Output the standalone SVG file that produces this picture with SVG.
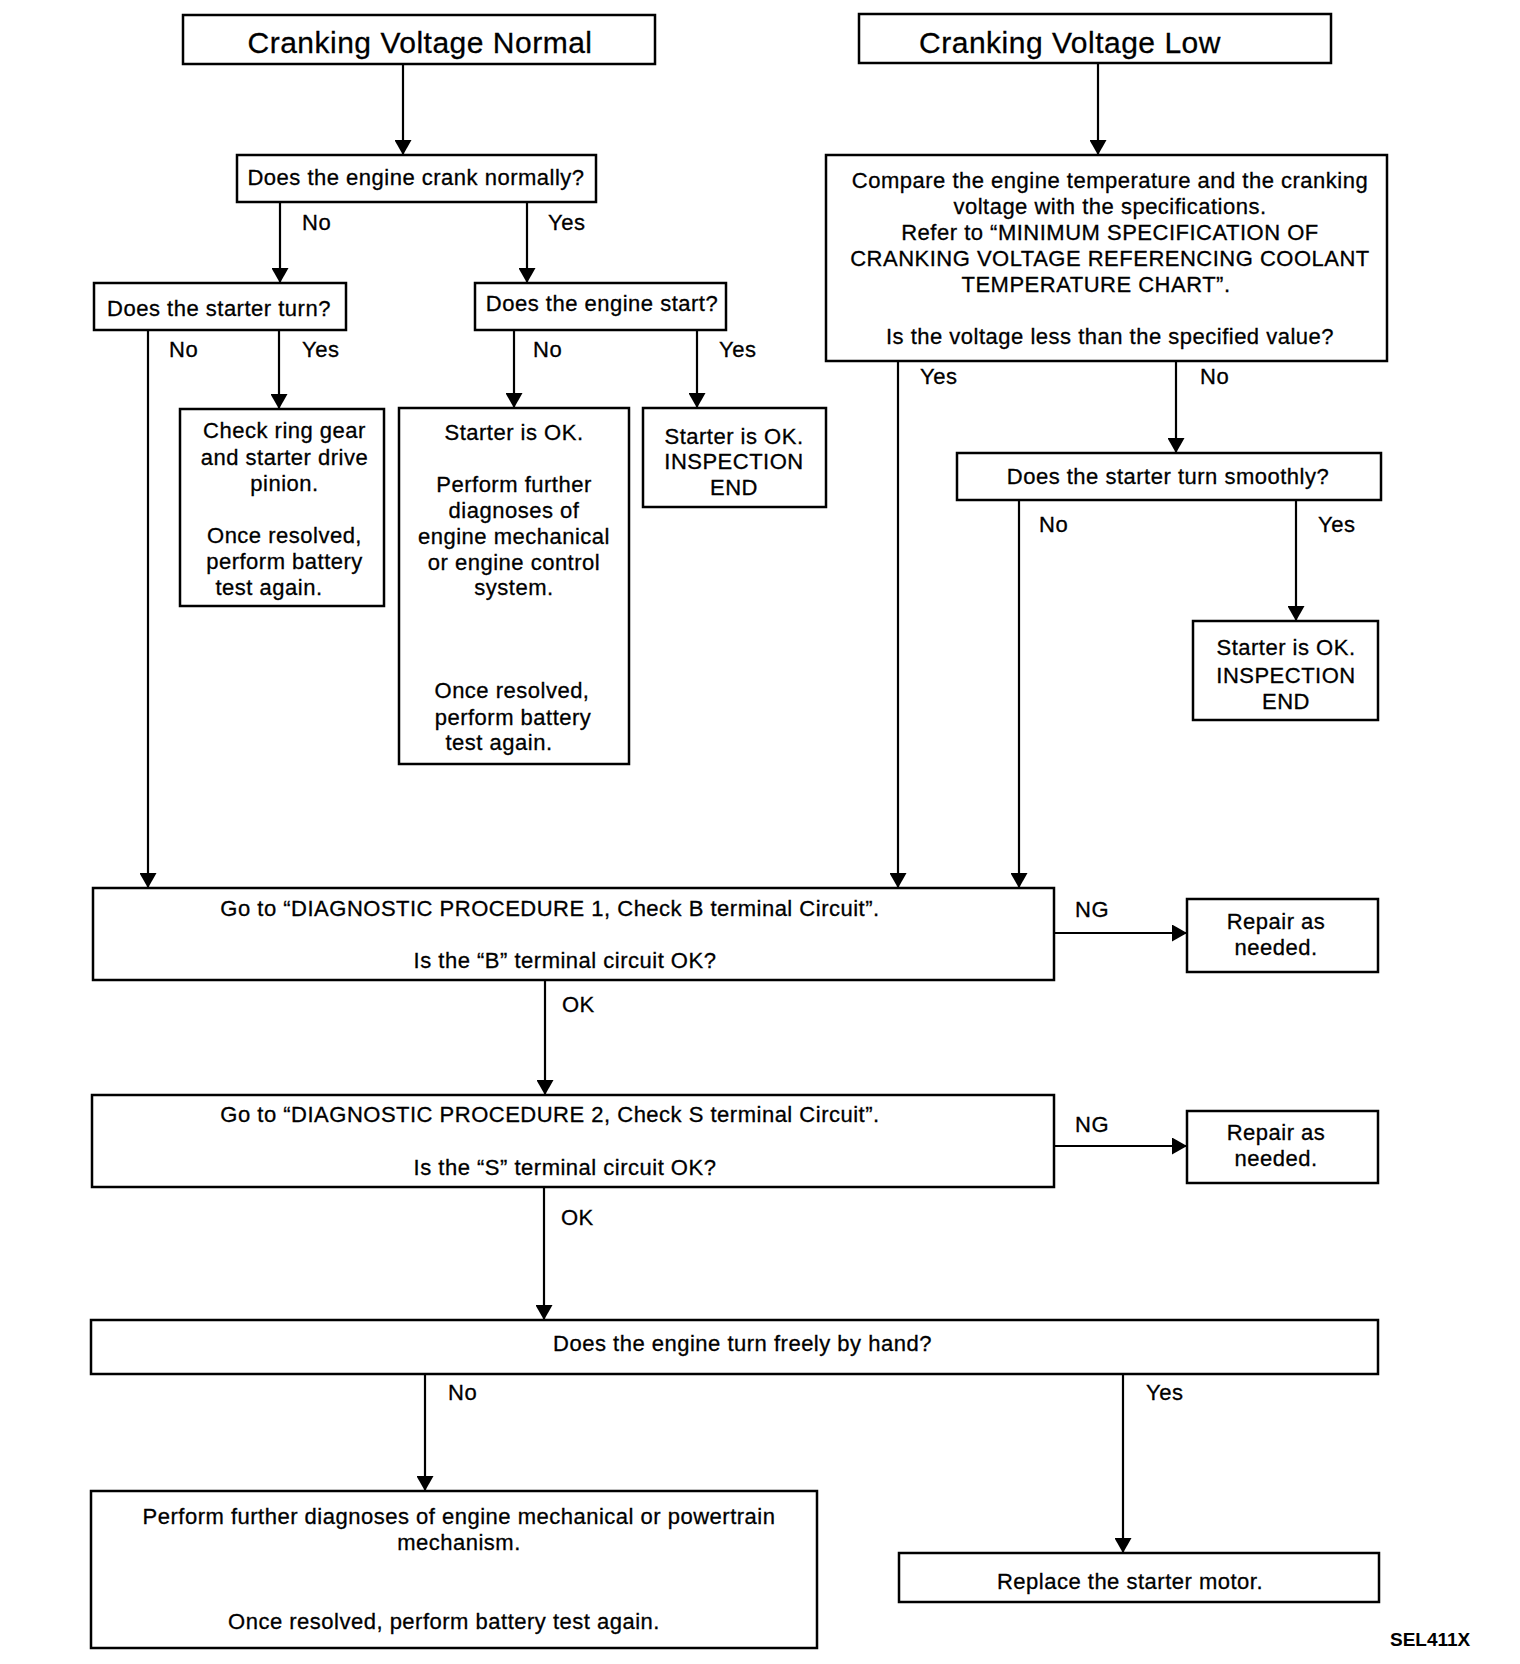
<svg xmlns="http://www.w3.org/2000/svg" width="1520" height="1664" viewBox="0 0 1520 1664">
<style>
  text { font-family: "Liberation Sans", Arial, Helvetica, sans-serif; font-size: 22px; letter-spacing: 0.5px; fill: #000; stroke: #000; stroke-width: 0.3px; text-anchor: middle; }
  .title { font-size: 30px; letter-spacing: 0.5px; }
  .lbl { text-anchor: start; }
  .code { font-size: 19px; font-weight: bold; letter-spacing: 0; text-anchor: start; stroke: none; }
  .box { fill: #fff; stroke: #000; stroke-width: 2.5; }
  .conn line { stroke: #000; stroke-width: 2.2; fill: none; marker-end: url(#ah); }
</style>
<defs>
  <marker id="ah" markerUnits="userSpaceOnUse" viewBox="0 0 15 17" markerWidth="15" markerHeight="17" refX="15" refY="8.5" orient="auto">
    <path d="M0,0 L15,8.5 L0,17 Z" fill="#000"/>
  </marker>
</defs>
<rect width="1520" height="1664" fill="#fff"/>

<g id="connectors" class="conn">
  <line x1="403" y1="64" x2="403" y2="155"/>
  <line x1="1098" y1="63" x2="1098" y2="155"/>
  <line x1="280" y1="202" x2="280" y2="283"/>
  <line x1="527" y1="202" x2="527" y2="283"/>
  <line x1="148" y1="330" x2="148" y2="888"/>
  <line x1="279" y1="330" x2="279" y2="409"/>
  <line x1="514" y1="330" x2="514" y2="408"/>
  <line x1="697" y1="330" x2="697" y2="408"/>
  <line x1="898" y1="361" x2="898" y2="888"/>
  <line x1="1176" y1="361" x2="1176" y2="453"/>
  <line x1="1019" y1="500" x2="1019" y2="888"/>
  <line x1="1296" y1="500" x2="1296" y2="621"/>
  <line x1="1054" y1="933" x2="1187" y2="933"/>
  <line x1="545" y1="980" x2="545" y2="1095"/>
  <line x1="1054" y1="1146" x2="1187" y2="1146"/>
  <line x1="544" y1="1187" x2="544" y2="1320"/>
  <line x1="425" y1="1374" x2="425" y2="1491"/>
  <line x1="1123" y1="1374" x2="1123" y2="1553"/>
  <g id="connector-labels">
    <text class="lbl" x="302" y="230">No</text>
    <text class="lbl" x="548" y="230">Yes</text>
    <text class="lbl" x="169" y="357">No</text>
    <text class="lbl" x="302" y="357">Yes</text>
    <text class="lbl" x="533" y="357">No</text>
    <text class="lbl" x="719" y="357">Yes</text>
    <text class="lbl" x="920" y="384">Yes</text>
    <text class="lbl" x="1200" y="384">No</text>
    <text class="lbl" x="1039" y="532">No</text>
    <text class="lbl" x="1318" y="532">Yes</text>
    <text class="lbl" x="1075" y="917">NG</text>
    <text class="lbl" x="562" y="1012">OK</text>
    <text class="lbl" x="1075" y="1132">NG</text>
    <text class="lbl" x="561" y="1225">OK</text>
    <text class="lbl" x="448" y="1400">No</text>
    <text class="lbl" x="1146" y="1400">Yes</text>
  </g>
</g>

<g id="n1">
  <rect class="box" x="183" y="15" width="472" height="49"/>
  <text class="title" x="420" y="53">Cranking Voltage Normal</text>
</g>
<g id="n2">
  <rect class="box" x="859" y="14" width="472" height="49"/>
  <text class="title" x="1070" y="53">Cranking Voltage Low</text>
</g>
<g id="n3">
  <rect class="box" x="237" y="155" width="359" height="47"/>
  <text x="416" y="185">Does the engine crank normally?</text>
</g>
<g id="n4">
  <rect class="box" x="826" y="155" width="561" height="206"/>
  <text x="1110" y="188">Compare the engine temperature and the cranking</text>
  <text x="1110" y="214">voltage with the specifications.</text>
  <text x="1110" y="240">Refer to “MINIMUM SPECIFICATION OF</text>
  <text x="1110" y="265.5">CRANKING VOLTAGE REFERENCING COOLANT</text>
  <text x="1096" y="291.5">TEMPERATURE CHART”.</text>
  <text x="1110" y="344">Is the voltage less than the specified value?</text>
</g>
<g id="n5">
  <rect class="box" x="94" y="283" width="252" height="47"/>
  <text x="219" y="316">Does the starter turn?</text>
</g>
<g id="n6">
  <rect class="box" x="475" y="283" width="251" height="47"/>
  <text x="602" y="311">Does the engine start?</text>
</g>
<g id="n7">
  <rect class="box" x="180" y="409" width="204" height="197"/>
  <text x="284.5" y="438">Check ring gear</text>
  <text x="284.5" y="465">and starter drive</text>
  <text x="284.5" y="491">pinion.</text>
  <text x="284.5" y="543">Once resolved,</text>
  <text x="284.5" y="568.5">perform battery</text>
  <text x="269" y="595">test again.</text>
</g>
<g id="n8">
  <rect class="box" x="399" y="408" width="230" height="356"/>
  <text x="514" y="439.5">Starter is OK.</text>
  <text x="514" y="492">Perform further</text>
  <text x="514" y="517.5">diagnoses of</text>
  <text x="514" y="543.5">engine mechanical</text>
  <text x="514" y="569.5">or engine control</text>
  <text x="514" y="594.5">system.</text>
  <text x="512" y="698">Once resolved,</text>
  <text x="513" y="725">perform battery</text>
  <text x="499" y="750">test again.</text>
</g>
<g id="n9">
  <rect class="box" x="643" y="408" width="183" height="99"/>
  <text x="734" y="443.5">Starter is OK.</text>
  <text x="734" y="469">INSPECTION</text>
  <text x="734" y="495">END</text>
</g>
<g id="n11">
  <rect class="box" x="957" y="453" width="424" height="47"/>
  <text x="1168" y="484">Does the starter turn smoothly?</text>
</g>
<g id="n12">
  <rect class="box" x="1193" y="621" width="185" height="99"/>
  <text x="1286" y="655">Starter is OK.</text>
  <text x="1286" y="682.5">INSPECTION</text>
  <text x="1286" y="708.5">END</text>
</g>
<g id="n10">
  <rect class="box" x="93" y="888" width="961" height="92"/>
  <text x="550" y="916">Go to “DIAGNOSTIC PROCEDURE 1, Check B terminal Circuit”.</text>
  <text x="565" y="968">Is the “B” terminal circuit OK?</text>
</g>
<g id="n13">
  <rect class="box" x="1187" y="899" width="191" height="73"/>
  <text x="1276" y="928.5">Repair as</text>
  <text x="1276" y="954.5">needed.</text>
</g>
<g id="n14">
  <rect class="box" x="92" y="1095" width="962" height="92"/>
  <text x="550" y="1121.5">Go to “DIAGNOSTIC PROCEDURE 2, Check S terminal Circuit”.</text>
  <text x="565" y="1175">Is the “S” terminal circuit OK?</text>
</g>
<g id="n15">
  <rect class="box" x="1187" y="1111" width="191" height="72"/>
  <text x="1276" y="1140">Repair as</text>
  <text x="1276" y="1166">needed.</text>
</g>
<g id="n16">
  <rect class="box" x="91" y="1320" width="1287" height="54"/>
  <text x="742.5" y="1351">Does the engine turn freely by hand?</text>
</g>
<g id="n17">
  <rect class="box" x="91" y="1491" width="726" height="157"/>
  <text x="459" y="1523.5">Perform further diagnoses of engine mechanical or powertrain</text>
  <text x="459" y="1550">mechanism.</text>
  <text x="444" y="1628.5">Once resolved, perform battery test again.</text>
</g>
<g id="n18">
  <rect class="box" x="899" y="1553" width="480" height="49"/>
  <text x="1130" y="1588.5">Replace the starter motor.</text>
</g>
<text class="code" x="1390" y="1646">SEL411X</text>
</svg>
